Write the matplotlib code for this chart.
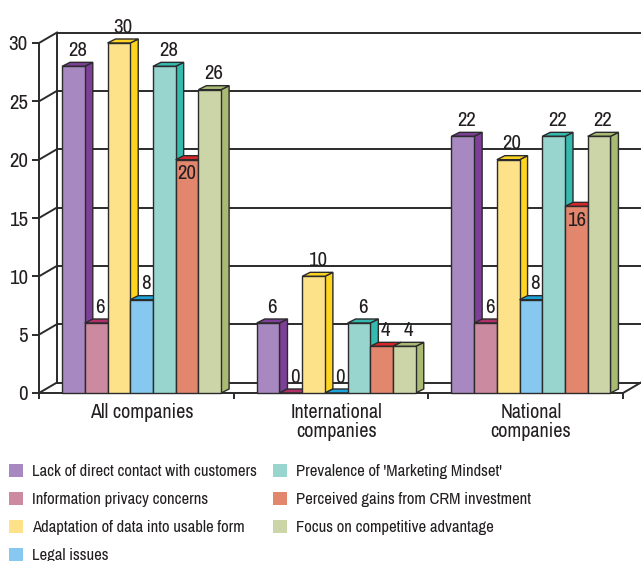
import numpy as np
import matplotlib.pyplot as plt
from matplotlib.patches import Polygon, Patch

plt.rcParams['font.family'] = ['Liberation Sans Narrow', 'Arial Narrow', 'Archivo Narrow',
                               'PT Sans Narrow', 'Roboto Condensed', 'Pragati Narrow',
                               'Fira Sans Condensed', 'IBM Plex Sans Condensed',
                               'Open Sans Condensed', 'Liberation Sans', 'DejaVu Sans']

groups = ['All companies', 'International\ncompanies', 'National\ncompanies']
series = ['Lack of direct contact with customers',
          'Information privacy concerns',
          'Adaptation of data into usable form',
          'Legal issues',
          "Prevalence of 'Marketing Mindset'",
          'Perceived gains from CRM investment',
          'Focus on competitive advantage']
lack = [28, 6, 22]
privacy = [6, 0, 6]
adaptation = [30, 10, 20]
legal = [8, 0, 8]
mindset = [28, 6, 22]
gains = [20, 4, 16]
focus = [26, 4, 22]
values = [lack, privacy, adaptation, legal, mindset, gains, focus]

front_colors = ['#A888C0', '#CC8AA0', '#FDE28A', '#86C8F0', '#98D5CF', '#E2866E', '#CBD5A8']
side_colors = ['#7E3F98', '#B0306A', '#FFD520', '#1BA5DC', '#35BAB0', '#D7262A', '#A9BA72']

W, H = 641, 561
fig = plt.figure(figsize=(W / 100, H / 100), dpi=100)

# front plane of the plot: x 0..3 -> px 39..623, y 0..30 -> px 393..43
x0_px, x1_px, y0_px, y1_px = 39, 623, 393, 43
ax = fig.add_axes([x0_px / W, 1 - y0_px / H, (x1_px - x0_px) / W, (y0_px - y1_px) / H])
ax.set_xlim(0, 3)
ax.set_ylim(0, 30)
ax.set_facecolor('none')

ux = (x1_px - x0_px) / 3.0     # px per category
uy = (y0_px - y1_px) / 30.0    # px per value unit

def px(dx, dy):
    return dx / ux, dy / uy

wall_dx, wall_dy = px(18, 10.5)
bar_dx, bar_dy = px(8, 4)
right_edge = (W - x0_px) / ux

line_col = '#2B2B2B'
text_col = '#231F20'
fs_num = 15
fs_cat = 14.5
fs_leg = 12

# back wall grid and floor
for yv in range(0, 31, 5):
    ax.plot([wall_dx, right_edge], [yv + wall_dy] * 2, color=line_col, lw=1.4,
            clip_on=False, zorder=1, solid_capstyle='butt')
    ax.plot([0, wall_dx], [yv, yv + wall_dy], color=line_col, lw=1.4,
            clip_on=False, zorder=1)
ax.plot([wall_dx, wall_dx], [wall_dy, 30 + wall_dy], color=line_col, lw=1.4,
        clip_on=False, zorder=1)
ax.plot([3, 3 + wall_dx], [0, wall_dy], color=line_col, lw=1.4, clip_on=False, zorder=1)

# 3-D style bars
bar_w = 0.1167
shift = 0.027
n = len(values)
z = 3
for g in range(len(groups)):
    start = g + 0.5 + shift - n * bar_w / 2
    for i, vals in enumerate(values):
        v = vals[g]
        xl = start + i * bar_w
        xr = xl + bar_w
        side = Polygon([(xr, 0), (xr + bar_dx, bar_dy), (xr + bar_dx, v + bar_dy), (xr, v)],
                       closed=True, facecolor=side_colors[i], edgecolor=line_col,
                       lw=1.0, zorder=z, clip_on=False)
        top = Polygon([(xl, v), (xl + bar_dx, v + bar_dy), (xr + bar_dx, v + bar_dy), (xr, v)],
                      closed=True, facecolor=side_colors[i], edgecolor=line_col,
                      lw=1.0, zorder=z, clip_on=False)
        ax.add_patch(side)
        ax.add_patch(top)
        ax.bar(xl, v, width=bar_w, align='edge', color=front_colors[i],
               edgecolor=line_col, lw=1.0, zorder=z + 0.5, clip_on=False)
        z += 1

        # value label: above the bar, or inside it when squeezed by taller neighbours
        left_v = values[i - 1][g] if i > 0 else 0
        right_v = values[i + 1][g] if i < n - 1 else 0
        inside = v >= 10 and left_v > v and right_v > v
        if inside:
            ax.annotate(str(v), (xl + bar_w / 2, v), xytext=(0, -14),
                        textcoords='offset points', ha='center', va='baseline',
                        fontsize=fs_num, color=text_col, zorder=200)
        else:
            ax.annotate(str(v), (xl + bar_w / 2 + bar_dx / 2, v), xytext=(0, 7.5),
                        textcoords='offset points', ha='center', va='baseline',
                        fontsize=fs_num, color=text_col, zorder=200)

for s in ['top', 'right']:
    ax.spines[s].set_visible(False)
for s in ['left', 'bottom']:
    ax.spines[s].set_color(line_col)
    ax.spines[s].set_linewidth(1.4)
    ax.spines[s].set_zorder(2)

ax.set_yticks(range(0, 31, 5))
ax.tick_params(axis='y', length=5, width=1.4, color=line_col, labelsize=fs_num,
               labelcolor=text_col, pad=3)
ax.set_xticks([0, 1, 2, 3])
ax.set_xticklabels([])
ax.tick_params(axis='x', which='major', length=4.5, width=1.4, color=line_col)
ax.set_xticks([g + 0.5 + shift for g in range(len(groups))], minor=True)
ax.set_xticklabels(groups, minor=True, fontsize=fs_cat, color=text_col, linespacing=1.0)
ax.tick_params(axis='x', which='minor', length=0, pad=7)

# legend in two columns: first four series left, remaining three right
handles = [Patch(facecolor=c, edgecolor='none', label=s) for c, s in zip(front_colors, series)]
leg_kw = dict(loc='upper left', frameon=False, fontsize=fs_leg,
              handlelength=0.84, handleheight=0.84, handletextpad=0.55,
              labelspacing=0.76, borderpad=0, borderaxespad=0, labelcolor=text_col)
fig.legend(handles=handles[:4], bbox_to_anchor=(9 / W, 1 - 464 / H), **leg_kw)
fig.legend(handles=handles[4:], bbox_to_anchor=(273 / W, 1 - 464 / H), **leg_kw)

fig.savefig('out.png', dpi=100)
